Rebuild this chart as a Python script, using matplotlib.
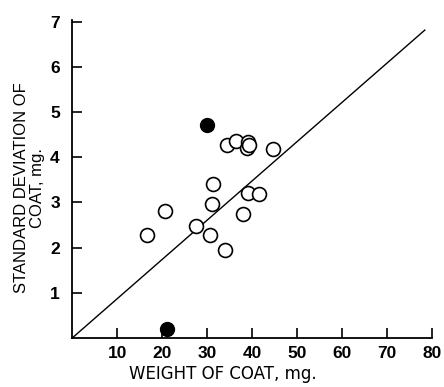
import numpy as np
import matplotlib
matplotlib.use("Agg")
import matplotlib.pyplot as plt

# ==============================================================================
# Data
#
open_weight = [34.5, 36.5, 39.0, 38.8, 39.3, 44.7, 31.2, 39.1, 41.5,
               20.7, 31.1, 37.9, 27.4, 30.6, 16.7, 33.9]
open_sd = [4.27, 4.36, 4.33, 4.21, 4.27, 4.18, 3.40, 3.21, 3.19,
           2.82, 2.96, 2.75, 2.47, 2.27, 2.27, 1.94]
filled_weight = [30.0, 21.1]
filled_sd = [4.71, 0.19]
line_x = [0, 78.4]
line_slope = 0.087
x_ticks = [10, 20, 30, 40, 50, 60, 70, 80]
y_ticks = [1, 2, 3, 4, 5, 6, 7]

plt.rcParams['font.family'] = ['Liberation Sans', 'DejaVu Sans']
TICK_FONT = ['Liberation Sans Narrow', 'Liberation Sans', 'DejaVu Sans']

# ==============================================================================
# Plot
#
fig = plt.figure(figsize=(4.44, 3.87), dpi=100)
ax = fig.add_axes([0.163, 0.127, 0.810, 0.822])

lx = np.array(line_x)
ax.plot(lx, line_slope*lx, color='black', lw=1.0, clip_on=False)
ax.plot(open_weight, open_sd, 'o', ms=10, mfc='white', mec='black',
        mew=1.2, clip_on=False)
ax.plot(filled_weight, filled_sd, 'o', ms=10, mfc='black', mec='black',
        clip_on=False)

ax.set_xlim(0, 80)
ax.set_ylim(0, 7.05)
ax.set_xticks(x_ticks)
ax.set_yticks(y_ticks)
ax.tick_params(direction='in', length=7, width=1.2)
ax.tick_params(axis='x', pad=6)
ax.tick_params(axis='y', pad=9)
for lab in ax.get_xticklabels() + ax.get_yticklabels():
    lab.set_family(TICK_FONT)
    lab.set_fontsize(12.5)
    lab.set_fontweight('bold')
ax.spines['top'].set_visible(False)
ax.spines['right'].set_visible(False)
for s in ('left', 'bottom'):
    ax.spines[s].set_linewidth(1.3)

                                                                  # axis titles
fig.text(0.501, 0.034, 'WEIGHT OF COAT, mg.', family='DejaVu Sans',
         fontsize=12, ha='center', va='center')
fig.text(0.066, 0.515, 'STANDARD DEVIATION OF\nCOAT, mg.', fontsize=12,
         rotation=90, ha='center', va='center', linespacing=1.05,
         multialignment='center')

fig.savefig('out.png', dpi=100)
